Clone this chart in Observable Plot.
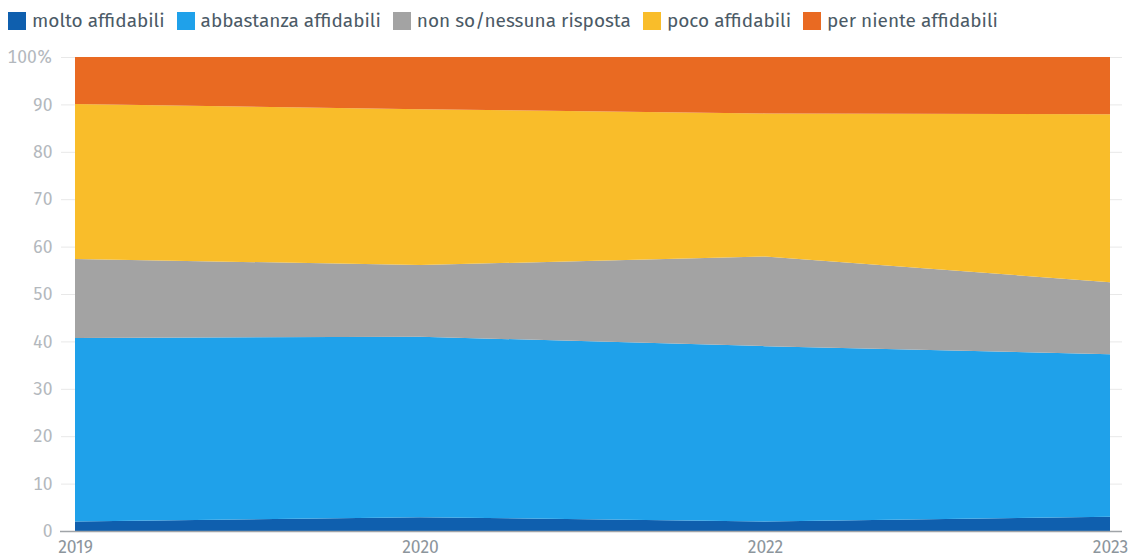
<!DOCTYPE html>
<html><head><meta charset="utf-8">
<script src="https://cdn.jsdelivr.net/npm/d3@7"></script>
<script src="https://cdn.jsdelivr.net/npm/@observablehq/plot@0.6"></script>
<style>
body{margin:0;background:#fff;font-family:"Fira Sans",Roboto,"Noto Sans",sans-serif;}
#legend{display:flex;height:29px;padding-top:6px;padding-bottom:6px;align-items:center;padding-left:8px;font-size:19px;color:#4b5a66;white-space:nowrap;}
#legend .item{display:flex;align-items:center;margin-right:12px;}
#legend .sw{width:18px;height:18px;margin-right:6px;}
svg{display:block}
</style></head><body>
<div id="legend"></div>
<div id="chart"></div>
<script>
const years = ["2019","2020","2022","2023"];
const seriesNames = ["molto affidabili","abbastanza affidabili","non so/nessuna risposta","poco affidabili","per niente affidabili"];
const colors = ["#0f5fae","#1fa1ea","#a3a3a3","#f9bd2a","#e96a22"];
const molto = [2.0, 2.9, 2.0, 3.0];
const abbastanza = [38.7, 38.1, 37.0, 34.3];
const nonSo = [16.7, 15.1, 18.9, 15.2];
const poco = [32.7, 32.9, 30.2, 35.4];
const perNiente = [9.9, 11.0, 11.9, 12.1];
const yTicks = [0,10,20,30,40,50,60,70,80,90,100];

const seriesValues = [molto, abbastanza, nonSo, poco, perNiente];
const data = [];
seriesNames.forEach((s, i) => years.forEach((y, j) => data.push({year: y, series: s, value: seriesValues[i][j]})));

const legend = document.getElementById("legend");
seriesNames.forEach((s, i) => {
  const it = document.createElement("div"); it.className = "item";
  const sw = document.createElement("div"); sw.className = "sw"; sw.style.background = colors[i];
  const t = document.createElement("span"); t.textContent = s;
  it.appendChild(sw); it.appendChild(t); legend.appendChild(it);
});

const chart = Plot.plot({
  width: 1130, height: 516,
  marginLeft: 74, marginRight: 20, marginTop: 16, marginBottom: 26,
  style: {fontFamily: '"Fira Sans",Roboto,"Noto Sans",sans-serif', fontSize: "17.5px"},
  x: {type: "point", domain: years, padding: 0, label: null},
  y: {domain: [0, 100], label: null},
  color: {domain: seriesNames, range: colors},
  marks: [
    Plot.ruleY(yTicks, {stroke: "#e8e8e8", insetLeft: -13, insetRight: -12}),
    Plot.areaY(data, Plot.stackY({order: seriesNames}, {x: "year", y: "value", z: "series", fill: "series", curve: "linear"})),
    Plot.ruleY([0], {stroke: "#a0a4a8", strokeWidth: 1.5, insetLeft: -14, insetRight: -12}),
    Plot.axisY(yTicks, {tickSize: 0, tickPadding: 22, fill: "#b3b8bd", fontSize: 17.5, tickFormat: d => d === 100 ? "100%" : String(d)}),
    Plot.axisX(years, {tickSize: 0, tickPadding: 9, fill: "#8c959c", fontSize: 17.5})
  ]
});
document.getElementById("chart").appendChild(chart);
</script>
</body></html>
